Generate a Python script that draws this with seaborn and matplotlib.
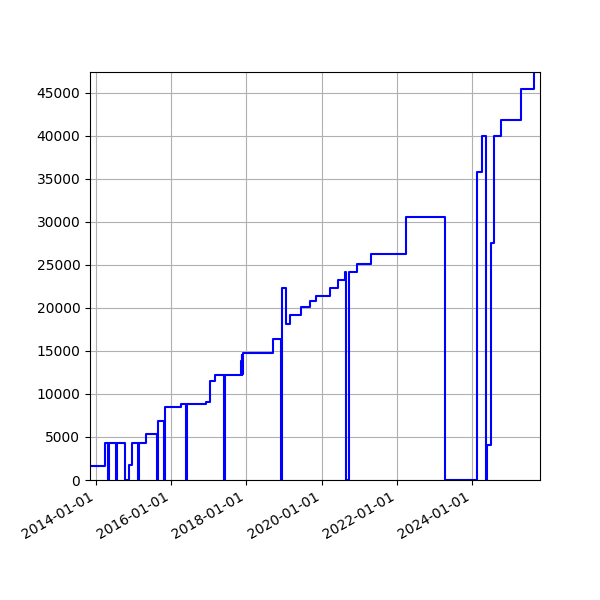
import matplotlib
matplotlib.use("Agg")
import matplotlib.pyplot as plt
import matplotlib.dates as mdates
import matplotlib.ticker as mticker
import seaborn as sns
import pandas as pd

dates = [
    "2013-11-07", "2014-03-29", "2014-04-30", "2014-05-13", "2014-07-14", "2014-07-27",
    "2014-10-09", "2014-11-17", "2014-12-22", "2015-02-15", "2015-03-02", "2015-05-07",
    "2015-08-17", "2015-09-01", "2015-10-21", "2015-11-02", "2016-04-07", "2016-05-23",
    "2016-06-04", "2016-12-06", "2017-01-18", "2017-03-06", "2017-05-31", "2017-06-12",
    "2017-11-13", "2017-11-16", "2017-11-19", "2017-11-22", "2017-11-26",
    "2018-09-19", "2018-11-30", "2018-12-10", "2019-01-20", "2019-02-28", "2019-06-15",
    "2019-09-10", "2019-11-07", "2020-03-22", "2020-06-05", "2020-08-17", "2020-08-22",
    "2020-09-19", "2020-12-06", "2021-04-24", "2022-03-26", "2023-04-11", "2024-02-13",
    "2024-04-01", "2024-05-10", "2024-05-20", "2024-06-30", "2024-08-01", "2024-10-05",
    "2025-04-17", "2025-08-24", "2025-10-19",
]
values = [
    1600, 4250, 0, 4250, 0, 4250,
    0, 1700, 4300, 0, 4300, 5400,
    0, 6900, 0, 8450, 8800, 0,
    8800, 9050, 11550, 12150, 0, 12150,
    13800, 12200, 14500, 12300, 14750,
    16400, 0, 22350, 18100, 19150, 20100,
    20800, 21400, 22350, 23250, 24150, 0,
    24150, 25050, 26250, 30600, 0, 35800,
    39950, 0, 4100, 27550, 39950, 41850,
    45450, 47400, 47400,
]

df = pd.DataFrame({"date": pd.to_datetime(dates), "value": values})

fig = plt.figure(figsize=(6, 6), dpi=100)
ax = fig.add_axes([0.15, 0.2, 0.75, 0.68])
sns.lineplot(data=df, x="date", y="value", ax=ax, estimator=None,
             drawstyle="steps-post", color="blue", linewidth=1.5)
ax.set_xlim(df["date"].min(), df["date"].max())
ax.set_ylim(0, max(values))
ax.yaxis.set_major_locator(mticker.MultipleLocator(5000))
ax.xaxis.set_major_locator(mdates.YearLocator(2))
ax.xaxis.set_major_formatter(mdates.DateFormatter("%Y-%m-%d"))
ax.grid(True)
ax.set_xlabel("")
ax.set_ylabel("")
for lbl in ax.get_xticklabels():
    lbl.set_rotation(30)
    lbl.set_ha("right")
fig.savefig("out.png", dpi=100)
